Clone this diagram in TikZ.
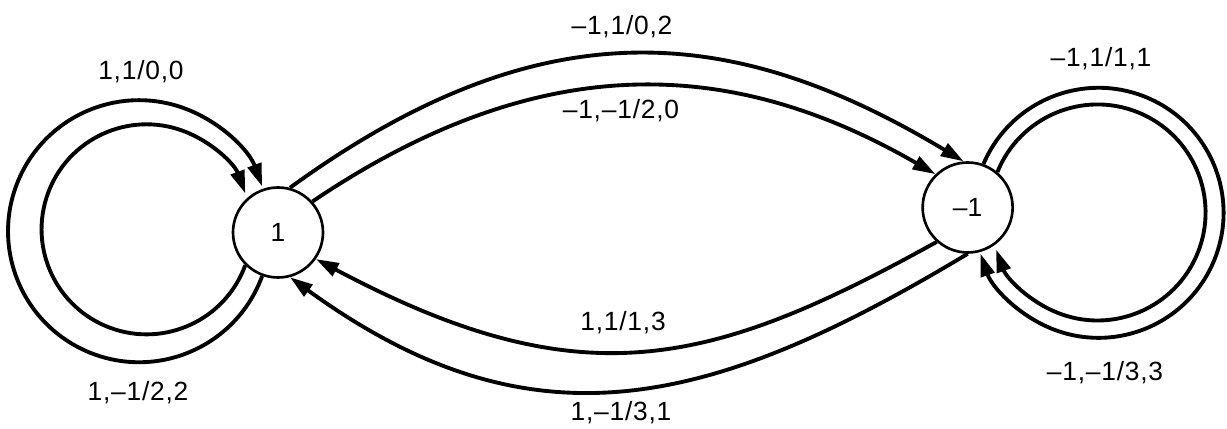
\documentclass[tikz,border=0pt]{standalone}
\usepackage{fontspec}
\setmainfont{Liberation Sans}
\newfontfamily\lblfont[LetterSpace=3]{Liberation Sans}
\usetikzlibrary{positioning, arrows.meta}

\begin{document}
\begin{tikzpicture}[
  statecircle/.style={
    draw,
    circle,
    line width=1.5pt,
    minimum size=1.8cm,
    inner sep=0pt,
    font=\fontsize{15}{17}\selectfont
  },
  trans/.style={
    line width=2.2pt,
    -{Triangle[length=13pt, width=8pt]}
  },
  lbl/.style={font=\lblfont\fontsize{15}{17}\selectfont},
  node distance=1cm
]

\useasboundingbox (0,0) rectangle (24.54,8.58);

% States
\node[statecircle] (StateOne) at (5.56,3.93) {1};
\node[statecircle, right=11.94cm of StateOne, yshift=0.5cm] (StateMinusOne) {\textendash1};

% Loops on state 1
\draw[trans] (StateOne.-110) arc[start angle=-20, end angle=-340, radius=2.62cm];
\draw[trans] (StateOne.-135) arc[start angle=-20, end angle=-340, radius=2.1cm];

% Loops on state -1
\draw[trans] (StateMinusOne.70) arc[start angle=157, end angle=-161, radius=2.5cm];
\draw[trans] (StateMinusOne.50) arc[start angle=158, end angle=-160, radius=2.16cm];

% Transitions between the states
\draw[trans] (StateOne.75) .. controls +(36:6.2) and +(149:5.4) .. (StateMinusOne.95);
\draw[trans] (StateOne.42) .. controls +(34:5.6) and +(150:4.6) .. (StateMinusOne.134);
\draw[trans] (StateMinusOne.-132) .. controls +(-151:5.2) and +(-28:6.0) .. (StateOne.-35);
\draw[trans] (StateMinusOne.-90) to[out=-149, in=-36, looseness=1.13] (StateOne.-75);

% Labels
\node[lbl] (LblA) at (2.82,7.14) {1,1/0,0};
\node[lbl] (LblB) at (2.76,0.72) {1,\textendash1/2,2};
\node[lbl] (LblC) at (22.02,7.40) {\textendash1,1/1,1};
\node[lbl] (LblD) at (22.10,1.12) {\textendash1,\textendash1/3,3};
\node[lbl] (LblE) at (12.44,8.04) {\textendash1,1/0,2};
\node[lbl] (LblF) at (12.42,6.36) {\textendash1,\textendash1/2,0};
\node[lbl] (LblG) at (12.46,2.12) {1,1/1,3};
\node[lbl] (LblH) at (12.42,0.33) {1,\textendash1/3,1};

\end{tikzpicture}
\end{document}
